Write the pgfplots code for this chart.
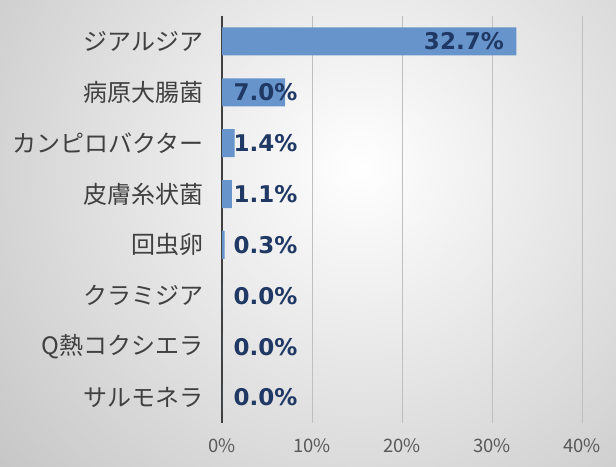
\documentclass[border=0pt]{standalone}
\usepackage{pgfplots}
\pgfplotsset{compat=1.18}
\usepackage{fontspec}
\setmainfont{DejaVu Sans}
\newfontfamily\jp{Noto Sans CJK JP}
\definecolor{barc}{HTML}{6794CB}
\definecolor{labc}{HTML}{1F3864}
\definecolor{cattext}{HTML}{404040}
\definecolor{ticktext}{HTML}{595959}
\begin{document}
\begin{tikzpicture}[x=1bp,y=1bp]
\begin{scope}
\clip (0,0) rectangle (616,467);
\shade[inner color=white, outer color=black!22] (-110,-160) rectangle (830,760);
\end{scope}
\useasboundingbox (0,0) rectangle (616,467);
\begin{axis}[
  at={(222bp,44bp)}, anchor=south west,
  scale only axis, width=360bp, height=407bp,
  xmin=0, xmax=40, ymin=-0.5, ymax=7.5, y dir=reverse,
  axis lines*=left,
  x axis line style={draw=none},
  y axis line style={draw=cattext, line width=1.6bp},
  xmajorgrids, grid style={draw=black!25, line width=0.6bp},
  xtick={0,10,20,30,40},
  xticklabel={\pgfmathprintnumber{\tick}\%},
  xticklabel style={font=\jp\fontsize{18.5bp}{20bp}\selectfont, text=ticktext, yshift=-12bp},
  ytick={0,...,7},
  yticklabels={ジアルジア,病原大腸菌,カンピロバクター,皮膚糸状菌,回虫卵,クラミジア,Q熱コクシエラ,サルモネラ},
  yticklabel style={font=\jp\fontsize{24bp}{26bp}\selectfont, text=cattext, xshift=-15bp},
  major tick length=0pt,
  /pgf/number format/assume math mode=true,
]
\addplot[xbar, fill=barc, draw=none, bar width=28bp] coordinates {(32.7,0) (7.0,1) (1.4,2) (1.1,3) (0.3,4) (0,5) (0,6) (0,7)};
\addplot[draw=none, mark=none, point meta=explicit,
  nodes near coords={\pgfmathprintnumber[fixed,fixed zerofill,precision=1]{\pgfplotspointmeta}\%},
  every node near coord/.style={anchor=east, xshift=-9bp, font=\bfseries\fontsize{23bp}{25bp}\selectfont, text=labc}]
  coordinates {(32.7,0) [32.7]};
\addplot[draw=none, mark=none, point meta=explicit,
  nodes near coords={\pgfmathprintnumber[fixed,fixed zerofill,precision=1]{\pgfplotspointmeta}\%},
  every node near coord/.style={anchor=west, xshift=8bp, font=\bfseries\fontsize{23bp}{25bp}\selectfont, text=labc}]
  coordinates {(0,1) [7.0] (0,2) [1.4] (0,3) [1.1] (0,4) [0.3] (0,5) [0.0] (0,6) [0.0] (0,7) [0.0]};
\end{axis}
\end{tikzpicture}
\end{document}
